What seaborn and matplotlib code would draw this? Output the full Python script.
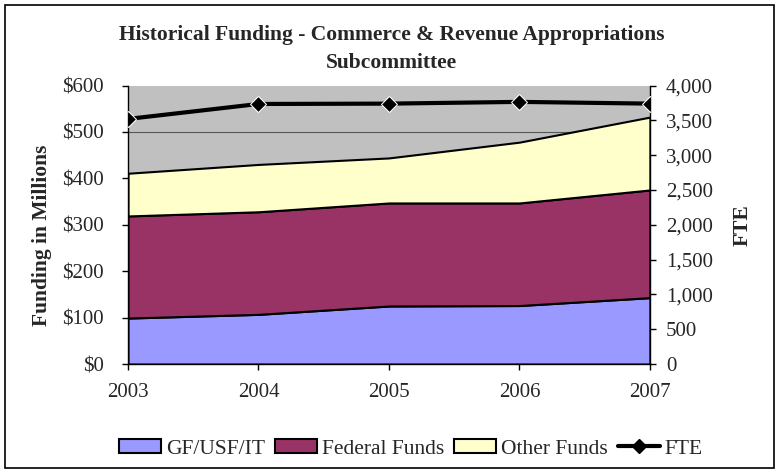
import matplotlib
matplotlib.use("Agg")
import matplotlib.pyplot as plt
from matplotlib.patches import Patch
from matplotlib.lines import Line2D
import pandas as pd
import seaborn as sns

years = [2003, 2004, 2005, 2006, 2007]
gf_usf_it = [99, 107, 125, 126, 143]
federal_funds = [220, 221, 222, 221, 232]
other_funds = [92, 102, 97, 131, 157]
fte = [3520, 3735, 3740, 3765, 3740]

df = pd.DataFrame({"Year": years, "FTE": fte})

sns.set_theme(style="white")
plt.rcParams["font.family"] = "serif"
plt.rcParams["font.serif"] = ["Liberation Serif", "DejaVu Serif"]

fig = plt.figure(figsize=(7.79, 4.73), dpi=100)
ax = fig.add_axes([0.1643, 0.2304, 0.670, 0.5888])
ax.set_facecolor("#C0C0C0")

# gridlines (mostly hidden by the areas)
for v in range(100, 600, 100):
    ax.axhline(v, color="#555555", lw=0.8, zorder=0.5)

ax.stackplot(years, gf_usf_it, federal_funds, other_funds,
             colors=["#9999FF", "#993366", "#FFFFCC"],
             edgecolor="black", linewidth=1.5, zorder=1)

ax.set_xlim(2003, 2007)
ax.set_ylim(0, 600)
ax.set_xticks(years)
ax.set_yticks(range(0, 700, 100))
ax.set_yticklabels(["$%d" % v for v in range(0, 700, 100)])
ax.set_xlabel("")
for s in ["left", "bottom"]:
    ax.spines[s].set_color("black")
    ax.spines[s].set_linewidth(1)
ax.spines["top"].set_visible(False)
ax.spines["right"].set_visible(False)
ax.tick_params(axis="both", direction="out", length=4.5, width=1,
               color="black", labelsize=15, left=True, bottom=True)
ax.tick_params(axis="y", pad=13)
ax.tick_params(axis="x", pad=9)

ax.set_ylabel("Funding in Millions", fontsize=15.5, fontweight="bold")
ax.yaxis.label.set_verticalalignment("center")
ax.yaxis.set_label_coords(-0.165, 0.463)

ax2 = ax.twinx()
sns.lineplot(data=df, x="Year", y="FTE", ax=ax2, color="black",
             linewidth=3, marker="D", markersize=8, zorder=5)
ax2.set_ylim(0, 4000)
ax2.set_yticks(range(0, 4500, 500))
ax2.set_yticklabels(["{:,}".format(v) for v in range(0, 4500, 500)])
ax2.set_xlim(2003, 2007)
ax2.spines["top"].set_visible(False)
ax2.spines["left"].set_visible(False)
ax2.spines["bottom"].set_visible(False)
ax2.spines["right"].set_color("black")
ax2.spines["right"].set_linewidth(1)
ax2.tick_params(axis="y", direction="out", length=4.5, width=1,
                color="black", labelsize=15, right=True, pad=7)

ax2.set_ylabel("FTE", fontsize=15.5, fontweight="bold")
ax2.yaxis.label.set_verticalalignment("center")
ax2.yaxis.set_label_coords(1.177, 0.499)

fig.text(0.5026, 0.925, "Historical Funding - Commerce & Revenue Appropriations",
         ha="center", va="center", fontsize=15.5, fontweight="bold")
fig.text(0.5026, 0.866, "Subcommittee",
         ha="center", va="center", fontsize=15.5, fontweight="bold")

handles = [
    Patch(facecolor="#9999FF", edgecolor="black", linewidth=1.5, label="GF/USF/IT"),
    Patch(facecolor="#993366", edgecolor="black", linewidth=1.5, label="Federal Funds"),
    Patch(facecolor="#FFFFCC", edgecolor="black", linewidth=1.5, label="Other Funds"),
    Line2D([0], [0], color="black", lw=3, marker="D", markersize=7, label="FTE"),
]
fig.legend(handles=handles, loc="center", bbox_to_anchor=(0.5275, 0.051), ncol=4,
           frameon=False, fontsize=15.5, handlelength=1.95, handleheight=0.65,
           handletextpad=0.22, columnspacing=0.47, borderpad=0)

# outer chart border
fig.patches.append(plt.Rectangle((0.006, 0.01), 0.988, 0.98, transform=fig.transFigure,
                                 fill=False, edgecolor="black", linewidth=1.2))

fig.savefig("out.png", dpi=100, facecolor="white")
